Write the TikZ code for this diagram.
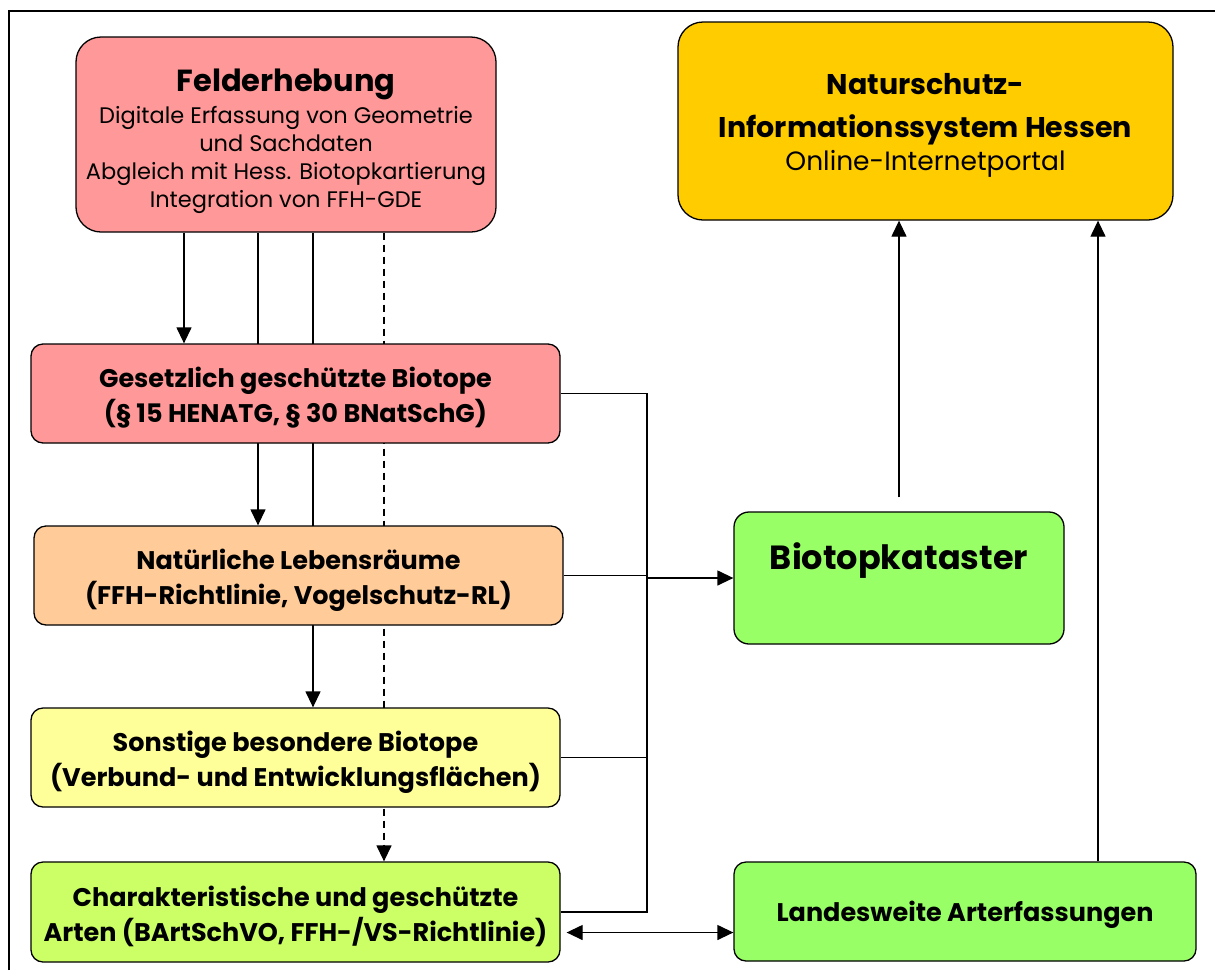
\documentclass[tikz,border=0pt]{standalone}
\usepackage{fontspec}
\setmainfont{Poppins}
\usetikzlibrary{arrows.meta,backgrounds,calc}
\definecolor{cpink}{HTML}{FF9999}
\definecolor{corange}{HTML}{FFCC99}
\definecolor{cyellow}{HTML}{FFFF99}
\definecolor{clime}{HTML}{CCFF66}
\definecolor{cgreen}{HTML}{99FF66}
\definecolor{cgold}{HTML}{FFCC00}
\newcommand{\ttlfont}{\fontsize{30.5}{36}\selectfont\bfseries}
\newcommand{\subfont}{\fontsize{22.5}{28}\selectfont\mdseries}
\newcommand{\natfont}{\fontsize{28.5}{40}\selectfont\bfseries}
\newcommand{\onlfont}{\fontsize{26.5}{33}\selectfont\mdseries}
\tikzset{
  bigbox/.style={draw, line width=1.3pt, rounded corners=25pt, inner sep=0pt},
  smallbox/.style={draw, line width=1.3pt, rounded corners=12pt, inner sep=0pt, minimum height=99pt},
  txt/.style={align=center, inner sep=0pt},
  stxt/.style={txt, font=\fontsize{25.5}{35}\selectfont\bfseries},
  conn/.style={line width=1.3pt},
  arr/.style={conn, -{Triangle[width=15pt,length=16pt]}},
  darr/.style={conn, {Triangle[width=15pt,length=16pt]}-{Triangle[width=15pt,length=16pt]}},
}
\begin{document}
\begin{tikzpicture}[x=1pt,y=-1pt]
\useasboundingbox (0,0) rectangle (1215,970);
\draw[line width=2.5pt] (9,970) -- (9,11) -- (1215,11);

% boxes
\node[bigbox, fill=cpink, minimum width=420pt, minimum height=195pt] (felder) at (286,134.5) {};
\node[bigbox, fill=cgold, minimum width=495pt, minimum height=198pt] (natur) at (925.5,121) {};
\node[smallbox, fill=cpink, minimum width=529pt] (ges) at (295.5,393.5) {};
\node[smallbox, fill=corange, minimum width=529pt] (nat) at (298.5,575.5) {};
\node[smallbox, fill=cyellow, minimum width=529pt] (son) at (295.5,757.5) {};
\node[smallbox, fill=clime, minimum width=529pt, minimum height=100pt] (char) at (295.5,912) {};
\node[smallbox, fill=cgreen, minimum width=330pt, minimum height=132pt, rounded corners=15pt] (bio) at (899,578) {};
\node[smallbox, fill=cgreen, minimum width=462pt] (land) at (965,911.5) {};

% texts
\node[txt, font=\subfont] (feldert) at ([yshift=-6.5pt]felder.center)
  {{\ttlfont Felderhebung}\\[4pt]
   Digitale Erfassung von Geometrie\\ und Sachdaten\\
   Abgleich mit Hess. Biotopkartierung\\ Integration von FFH-GDE};
\node[txt, font=\natfont] (naturt) at ([yshift=-4.5pt]natur.center)
  {Naturschutz-\\[3pt] Informationssystem Hessen\\[-7pt]
   {\onlfont Online-Internetportal}};
\node[stxt] (gest) at ([yshift=-4.5pt]ges.center)
  {Gesetzlich geschützte Biotope\\ (§ 15 HENATG, § 30 BNatSchG)};
\node[stxt] (natt) at ([yshift=-4.5pt]nat.center)
  {Natürliche Lebensräume\\ (FFH-Richtlinie, Vogelschutz-RL)};
\node[stxt] (sont) at ([yshift=-4.5pt]son.center)
  {Sonstige besondere Biotope\\ (Verbund- und Entwicklungsflächen)};
\node[stxt] (chart) at ([yshift=-4.5pt]char.center)
  {Charakteristische und geschützte\\ Arten (BArtSchVO, FFH-/VS-Richtlinie)};
\node[txt, font=\fontsize{33.5}{42}\selectfont\bfseries] (biot) at ([yshift=17pt]bio.center)
  {Biotopkataster};
\node[stxt] (landt) at ([yshift=-3pt]land.center)
  {Landesweite Arterfassungen};

\coordinate (bus) at (647,0);
\coordinate (fa) at ([xshift=-102pt]felder.south);
\coordinate (fb) at ([xshift=-28pt]felder.south);
\coordinate (fc) at ([xshift=27pt]felder.south);
\coordinate (fd) at ([xshift=98pt]felder.south);
\coordinate (dl) at ([yshift=-21pt]land.west);
\coordinate (lu) at ([xshift=133pt]land.north);

\begin{scope}[on background layer]
\draw[arr] (fa) -- (fa |- ges.north);
\draw[arr] (fb) -- (fb |- nat.north);
\draw[arr] (fc) -- (fc |- son.north);
\draw[arr, dash pattern=on 7pt off 5pt] (fd) -- (fd |- char.north);
\end{scope}

\draw[conn] (ges.east) -- (ges.east -| bus) -- (char.east -| bus) -- (char.east);
\draw[conn] (nat.east) -- (nat.east -| bus);
\draw[conn] (son.east) -- (son.east -| bus);
\draw[arr] (bus |- bio.west) -- (bio.west);
\draw[darr, shorten <=6pt] (dl -| char.east) -- (dl);
\draw[arr, shorten <=14pt] (bio.north) -- (bio.north |- natur.south);
\draw[arr] (lu) -- (lu |- natur.south);
\end{tikzpicture}
\end{document}
